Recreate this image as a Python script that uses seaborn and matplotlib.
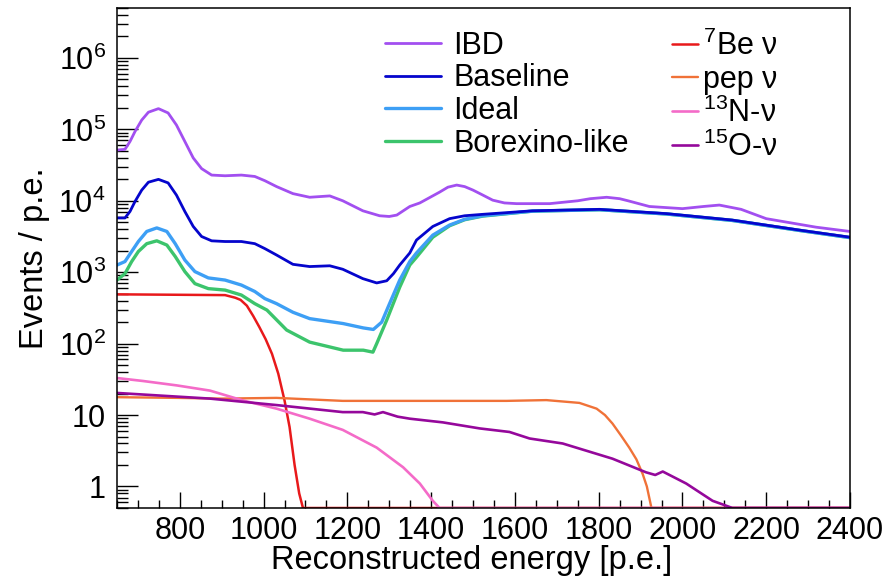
import numpy as np
import pandas as pd
import matplotlib
matplotlib.use("Agg")
import matplotlib.pyplot as plt
import seaborn as sns
from matplotlib.ticker import MultipleLocator, LogLocator, FixedLocator, FuncFormatter, NullFormatter

# ---------------- spectra (events per p.e.) ----------------
ibd_e = [650, 669, 681, 693, 709, 725, 749, 772, 792, 812, 832, 852, 876, 908, 947, 979,
         1003, 1031, 1070, 1110, 1158, 1189, 1237, 1277, 1300, 1318, 1349, 1373, 1420,
         1440, 1461, 1480, 1500, 1520, 1547, 1575, 1604, 1683, 1750, 1780, 1819, 1850,
         1870, 1921, 2000, 2050, 2088, 2140, 2200, 2319, 2400]
ibd_v = [51300, 52500, 67600, 93300, 134900, 173800, 195000, 169800, 114800, 67600, 39800,
         28200, 22900, 22400, 22900, 21900, 19100, 15800, 12600, 11200, 11700, 10000, 7240,
         6170, 6030, 6310, 8320, 9330, 13200, 15500, 16600, 15800, 14100, 12300, 10200,
         9330, 9120, 9120, 10000, 10700, 11200, 10700, 10000, 8320, 7760, 8320, 8710, 7590,
         5620, 4270, 3720]

base_e = [650, 669, 681, 693, 709, 725, 749, 772, 792, 812, 832, 852, 876, 908, 947, 979,
          1003, 1031, 1070, 1110, 1158, 1189, 1237, 1270, 1294, 1310, 1325, 1349, 1365,
          1404, 1444, 1480, 1523, 1642, 1802, 1962, 2119, 2279, 2400]
base_v = [5750, 5750, 7080, 9770, 14100, 18200, 19950, 17800, 12000, 7080, 4370, 3160, 2750,
          2690, 2690, 2510, 2140, 1740, 1290, 1200, 1230, 1100, 813, 708, 759, 955, 1260,
          1860, 2820, 4370, 5620, 6170, 6460, 7240, 7590, 6610, 5370, 3890, 3090]

ideal_e = [650, 669, 685, 701, 721, 745, 769, 789, 812, 836, 868, 908, 947, 979, 1003, 1031,
           1070, 1110, 1190, 1238, 1262, 1282, 1300, 1325, 1349, 1365, 1404, 1444, 1480,
           1523, 1642, 1802, 1962, 2119, 2279, 2400]
ideal_v = [1260, 1410, 1950, 2690, 3720, 4170, 3720, 2510, 1480, 1020, 832, 776, 661, 537,
           427, 363, 275, 224, 191, 166, 158, 200, 355, 776, 1410, 1860, 3310, 4570, 5500,
           6170, 7160, 7500, 6530, 5310, 3850, 3050]

borex_e = [650, 669, 685, 701, 721, 745, 769, 789, 812, 836, 868, 908, 947, 979, 1008, 1055,
           1110, 1190, 1238, 1261, 1270, 1294, 1325, 1349, 1365, 1404, 1444, 1480, 1523,
           1642, 1802, 1962, 2119, 2279, 2400]
borex_v = [776, 955, 1410, 1950, 2510, 2750, 2400, 1660, 1020, 692, 589, 562, 479, 363, 295,
           155, 105, 81, 81, 76, 100, 214, 617, 1260, 1620, 3090, 4470, 5430, 6100, 7160,
           7500, 6530, 5310, 3850, 3050]

be7_e = [650, 908, 932, 945, 960, 975, 990, 1005, 1020, 1035, 1050, 1062, 1074, 1085, 1094,
         2400]
be7_v = [490, 478, 440, 410, 340, 245, 170, 115, 72, 38, 16, 6.8, 2.0, 0.8, 0, 0]

pep_e = [650, 793, 900, 1031, 1189, 1428, 1580, 1675, 1754, 1795, 1815, 1833, 1853, 1873,
         1890, 1905, 1915, 1926, 2400]
pep_v = [17.8, 17.4, 17.0, 17.4, 15.8, 15.8, 15.8, 16.2, 14.8, 12.3, 10.0, 7.6, 5.2, 3.5,
         2.4, 1.5, 1.0, 0, 0]

n13_e = [650, 712, 793, 872, 951, 1031, 1110, 1189, 1270, 1333, 1373, 1404, 1420, 2400]
n13_v = [33, 30, 26, 22, 16, 12.3, 8.9, 6.2, 3.5, 1.86, 1.1, 0.63, 0, 0]

o15_e = [650, 872, 1031, 1189, 1237, 1265, 1285, 1320, 1349, 1428, 1516, 1587, 1635, 1714,
         1833, 1913, 1935, 1953, 2009, 2072, 2100, 2119, 2400]
o15_v = [20.4, 17.0, 13.8, 11.0, 11.0, 10.2, 11.0, 9.5, 8.9, 7.9, 6.5, 5.8, 4.7, 4.0, 2.45,
         1.58, 1.45, 1.62, 1.1, 0.63, 0.55, 0, 0]

# ---------------- axis settings ----------------
XMIN, XMAX = 650, 2400
YMIN, YMAX = 0.5, 5e6
x_ticks = [800, 1000, 1200, 1400, 1600, 1800, 2000, 2200, 2400]
y_ticks = [1, 10, 100, 1e3, 1e4, 1e5, 1e6]
x_minor = 50

upper_series = [
    ("IBD", ibd_e, ibd_v, "#a24ff0", 2.0),
    ("Baseline", base_e, base_v, "#0505cc", 2.0),
    ("Ideal", ideal_e, ideal_v, "#3d9ff5", 2.4),
    ("Borexino-like", borex_e, borex_v, "#3cc46c", 2.4),
]
lower_series = [
    (r"$\mathregular{^{7}}$Be ν", be7_e, be7_v, "#e8191b", 1.8),
    ("pep ν", pep_e, pep_v, "#f07238", 1.7),
    (r"$\mathregular{^{13}}$N-ν", n13_e, n13_v, "#f46bc8", 1.9),
    (r"$\mathregular{^{15}}$O-ν", o15_e, o15_v, "#95089b", 1.9),
]

sns.set_style("white")
plt.rcParams["font.family"] = ["Liberation Sans", "DejaVu Sans"]
plt.rcParams["mathtext.fontset"] = "custom"
plt.rcParams["mathtext.rm"] = "Liberation Sans"
for key in ("text.color", "axes.labelcolor", "xtick.color", "ytick.color"):
    plt.rcParams[key] = "black"

fig = plt.figure(figsize=(8.93, 5.78), dpi=100)
ax = fig.add_axes([117 / 893, 70 / 578, 733 / 893, 500 / 578])


def draw(series):
    handles = []
    for name, e, v, color, lw in series:
        df = pd.DataFrame({"energy": e, "events": np.maximum(np.asarray(v, float), YMIN)})
        sns.lineplot(data=df, x="energy", y="events", ax=ax, color=color, lw=lw,
                     estimator=None, sort=False, label=name, legend=False)
        handles.append(ax.get_lines()[-1])
    return handles


# draw order: lower components first, large spectra last (green under blue)
low_h = draw(lower_series)
up_h = draw(upper_series[::-1])[::-1]

ax.set_yscale("log")
ax.set_xlim(XMIN, XMAX)
ax.set_ylim(YMIN, YMAX)

ax.xaxis.set_major_locator(FixedLocator(x_ticks))
ax.xaxis.set_minor_locator(MultipleLocator(x_minor))
ax.yaxis.set_major_locator(FixedLocator(y_ticks))
ax.yaxis.set_minor_locator(LogLocator(base=10, subs=np.arange(2, 10), numticks=20))
ax.yaxis.set_minor_formatter(NullFormatter())


def log_label(v, pos):
    k = int(round(np.log10(v)))
    if k == 0:
        return "1"
    if k == 1:
        return "10"
    return r"$\mathregular{10^{%d}}$" % k


ax.yaxis.set_major_formatter(FuncFormatter(log_label))

ax.tick_params(axis="both", which="both", direction="in", colors="black",
               left=True, bottom=True, top=False, right=False, labelsize=22)
ax.tick_params(axis="y", which="major", length=15, width=1.0, pad=8)
ax.tick_params(axis="y", which="minor", length=8, width=1.0)
ax.tick_params(axis="x", which="major", length=11.5, width=1.0, pad=6)
ax.tick_params(axis="x", which="minor", length=6, width=1.0)

for sp in ax.spines.values():
    sp.set_visible(True)
    sp.set_color("black")
    sp.set_linewidth(1.1)

ax.set_xlabel("Reconstructed energy [p.e.]", fontsize=23.5)
ax.set_ylabel("Events / p.e.", fontsize=23.5)
ax.xaxis.set_label_coords(0.484, -0.073)
ax.yaxis.set_label_coords(-0.092, 0.5)

leg_kw = dict(loc="upper left", frameon=False, fontsize=22, labelspacing=0.09,
              borderpad=0, borderaxespad=0)
leg1 = ax.legend(handles=up_h, labels=[s[0] for s in upper_series],
                 bbox_to_anchor=(0.366, 0.955), handlelength=1.83, handletextpad=0.4,
                 **leg_kw)
ax.add_artist(leg1)
ax.legend(handles=low_h, labels=[s[0] for s in lower_series],
          bbox_to_anchor=(0.757, 0.955), handlelength=0.87, handletextpad=0.15, **leg_kw)

fig.savefig("out.png", dpi=100)
